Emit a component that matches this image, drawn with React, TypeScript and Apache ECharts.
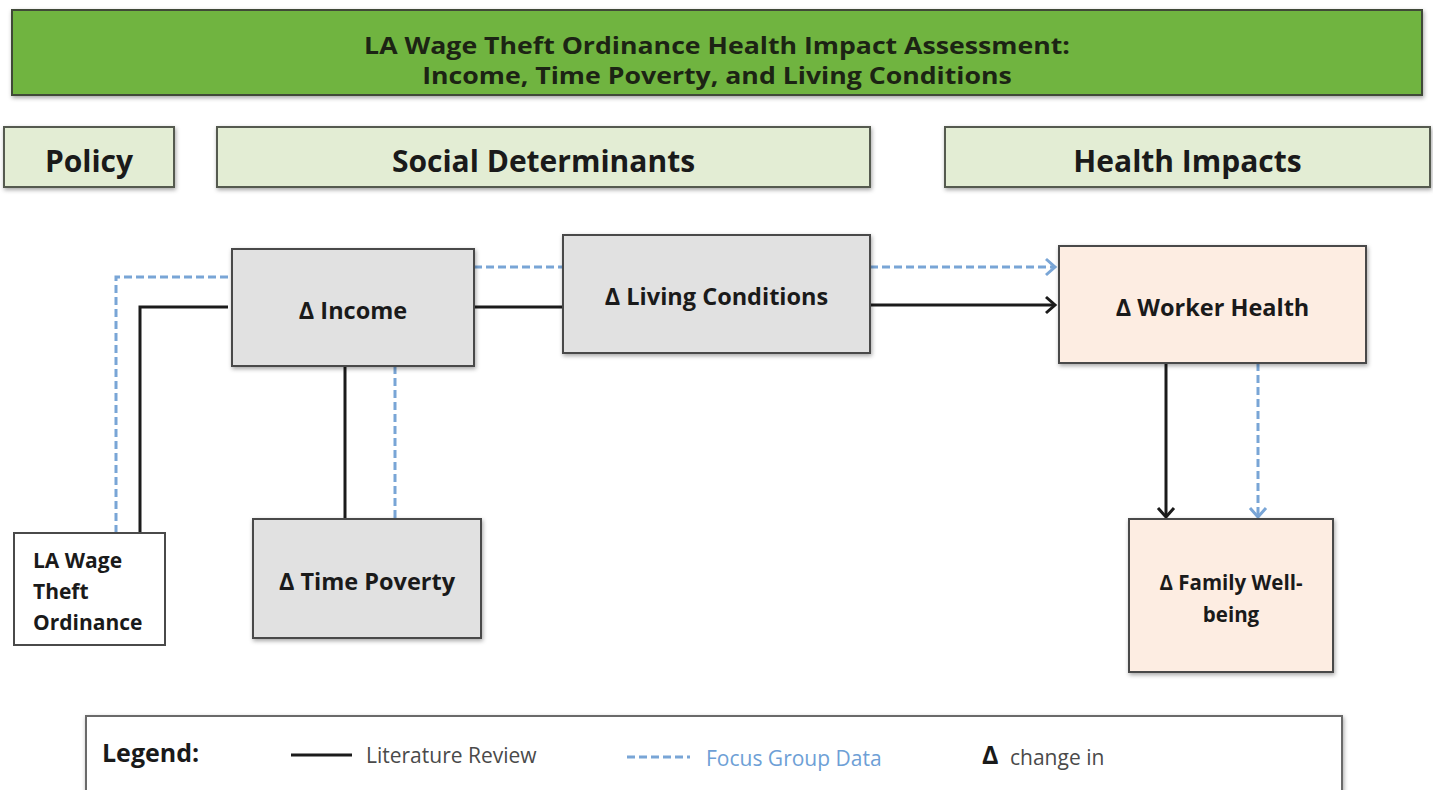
import React, { useEffect, useRef } from "react";
import * as echarts from "echarts";

// ---- content ----
const titleLines = [
  "LA Wage Theft Ordinance Health Impact Assessment:",
  "Income, Time Poverty, and Living Conditions",
];
const headerLabels = ["Policy", "Social Determinants", "Health Impacts"];
const nodeLabels = [
  "Δ Income",
  "Δ Living Conditions",
  "Δ Worker Health",
  "Δ Family Well-\nbeing",
  "LA Wage\nTheft\nOrdinance",
  "Δ Time Poverty",
];
const nodeKinds = ["social", "social", "health", "health", "policy", "social"];
// links: [fromNode, toNode, evidence]
const linkPairs: [number, number, string][] = [
  [4, 0, "literature"],
  [4, 0, "focus"],
  [0, 5, "literature"],
  [0, 5, "focus"],
  [0, 1, "literature"],
  [0, 1, "focus"],
  [1, 2, "literature"],
  [1, 2, "focus"],
  [2, 3, "literature"],
  [2, 3, "focus"],
];
const linkArrow = [false, false, false, false, false, false, true, true, true, true];
const legendLabels = ["Legend:", "Literature Review", "Focus Group Data", "change in"];

// ---- layout (pixels in a 1433 x 790 frame) ----
const titleBox = { x: 12, y: 10, w: 1410, h: 85 };
const headerBoxes = [
  { x: 4, y: 127, w: 170, h: 60 },
  { x: 217, y: 127, w: 653, h: 60 },
  { x: 945, y: 127, w: 485, h: 60 },
];
const nodeBoxes = [
  { x: 232, y: 249, w: 242, h: 117 },
  { x: 563, y: 235, w: 307, h: 118 },
  { x: 1059, y: 246, w: 307, h: 117 },
  { x: 1129, y: 519, w: 204, h: 153 },
  { x: 14, y: 533, w: 151, h: 112 },
  { x: 253, y: 519, w: 228, h: 119 },
];
const nodeFontSizes = [23.5, 23.5, 23.5, 20.5, 21, 23.5];
const linkPaths: number[][][] = [
  [[140, 533], [140, 307], [228, 307]],
  [[116, 533], [116, 277], [232, 277]],
  [[345, 366], [345, 519]],
  [[395, 366], [395, 519]],
  [[474, 307], [563, 307]],
  [[474, 267], [563, 267]],
  [[870, 305], [1055, 305]],
  [[870, 267], [1055, 267]],
  [[1166, 363], [1166, 517]],
  [[1258, 363], [1258, 517]],
];
const legendBox = { x: 86, y: 716, w: 1256, h: 100 };

const FONT = "'Open Sans', 'Noto Sans', sans-serif";
const BLUE = "#79a5d6";
const BLACK = "#1b1b1b";
const fills: Record<string, string> = {
  social: "#e1e1e1",
  health: "#fdede2",
  policy: "#ffffff",
};

export default function App() {
  const ref = useRef<HTMLDivElement>(null);
  useEffect(() => {
    document.body.style.margin = "0";
    if (!ref.current) return;
    const chart = echarts.init(ref.current, undefined, { renderer: "svg" });

    const rectAt = (api: any, b: any) => {
      const p1 = api.coord([b.x, b.y]);
      const p2 = api.coord([b.x + b.w, b.y + b.h]);
      return { x: p1[0], y: p1[1], width: p2[0] - p1[0], height: p2[1] - p1[1] };
    };
    const shadow = {
      shadowBlur: 4,
      shadowOffsetX: 1,
      shadowOffsetY: 2,
      shadowColor: "rgba(0,0,0,0.35)",
    };

    const chevron = (tip: number[], dir: string) => {
      const d = 9;
      const s = 8;
      if (dir === "right")
        return [[tip[0] - d, tip[1] - s], tip, [tip[0] - d, tip[1] + s]];
      return [[tip[0] - s, tip[1] - d], tip, [tip[0] + s, tip[1] - d]];
    };

    const option: any = {
      animation: false,
      backgroundColor: "#ffffff",
      grid: { left: 0, right: 0, top: 0, bottom: 0 },
      xAxis: { type: "value", min: 0, max: 1433, show: false },
      yAxis: { type: "value", min: 0, max: 790, inverse: true, show: false },
      series: [
        // title + header bands
        {
          type: "custom",
          clip: false,
          data: [0, 1, 2, 3].map((i) => [i, i]),
          renderItem: (params: any, api: any) => {
            const i = params.dataIndex;
            if (i === 0) {
              const r = rectAt(api, titleBox);
              return {
                type: "group",
                children: [
                  {
                    type: "rect",
                    shape: r,
                    style: { fill: "#6fb441", stroke: "#3f4a37", lineWidth: 2, ...shadow },
                  },
                  {
                    type: "text",
                    x: r.x + r.width / 2,
                    y: r.y + 50,
                    scaleX: 1.16,
                    style: {
                      text: titleLines.join("\n"),
                      x: 0,
                      y: 0,
                      align: "center",
                      verticalAlign: "middle",
                      fill: "#1c2414",
                      fontFamily: FONT,
                      fontWeight: "bold",
                      fontSize: 23,
                      lineHeight: 30,
                    },
                  },
                ],
              };
            }
            const b = headerBoxes[i - 1];
            const r = rectAt(api, b);
            return {
              type: "group",
              children: [
                {
                  type: "rect",
                  shape: r,
                  style: { fill: "#e3edd4", stroke: "#555a50", lineWidth: 2, ...shadow },
                },
                {
                  type: "text",
                  style: {
                    text: headerLabels[i - 1],
                    x: r.x + r.width / 2,
                    y: r.y + r.height / 2 + 3,
                    align: "center",
                    verticalAlign: "middle",
                    fill: "#1a1a1a",
                    fontFamily: FONT,
                    fontWeight: "bold",
                    fontSize: 30,
                  },
                },
              ],
            };
          },
        },
        // connectors
        {
          type: "custom",
          clip: false,
          z: 1,
          data: linkPairs.map((l, i) => [i, l[0]]),
          renderItem: (params: any, api: any) => {
            const i = params.dataIndex;
            const kind = linkPairs[i][2];
            const pts = linkPaths[i].map((p) => api.coord(p));
            const color = kind === "focus" ? BLUE : BLACK;
            const lineStyle: any = {
              stroke: color,
              lineWidth: 3,
              fill: null,
              lineDash: kind === "focus" ? [8, 4] : null,
            };
            const children: any[] = [
              { type: "polyline", shape: { points: pts }, style: lineStyle },
            ];
            if (linkArrow[i]) {
              const a = pts[pts.length - 2];
              const b = pts[pts.length - 1];
              const dir = a[1] === b[1] ? "right" : "down";
              children.push({
                type: "polyline",
                shape: { points: chevron(b, dir) },
                style: { stroke: color, lineWidth: 3, fill: null },
              });
            }
            return { type: "group", children };
          },
        },
        // nodes
        {
          type: "custom",
          clip: false,
          z: 2,
          data: nodeLabels.map((_, i) => [i, i]),
          renderItem: (params: any, api: any) => {
            const i = params.dataIndex;
            const r = rectAt(api, nodeBoxes[i]);
            const kind = nodeKinds[i];
            const isPolicy = kind === "policy";
            return {
              type: "group",
              children: [
                {
                  type: "rect",
                  shape: r,
                  style: {
                    fill: fills[kind],
                    stroke: "#4a4a4a",
                    lineWidth: 2,
                    ...(isPolicy ? {} : shadow),
                  },
                },
                {
                  type: "text",
                  style: {
                    text: nodeLabels[i],
                    x: isPolicy ? r.x + 19 : r.x + r.width / 2,
                    y: r.y + r.height / 2 + (isPolicy ? 2 : 2),
                    align: isPolicy ? "left" : "center",
                    verticalAlign: "middle",
                    fill: "#1a1a1a",
                    fontFamily: FONT,
                    fontWeight: "bold",
                    fontSize: nodeFontSizes[i],
                    lineHeight: isPolicy ? 31 : 32,
                  },
                },
              ],
            };
          },
        },
        // legend
        {
          type: "custom",
          clip: false,
          z: 3,
          data: [[0, 0]],
          renderItem: (params: any, api: any) => {
            const r = rectAt(api, legendBox);
            const p = (x: number, y: number) => api.coord([x, y]);
            return {
              type: "group",
              children: [
                {
                  type: "rect",
                  shape: r,
                  style: { fill: "#ffffff", stroke: "#6a6a6a", lineWidth: 2, ...shadow },
                },
                {
                  type: "text",
                  style: {
                    text: legendLabels[0],
                    x: p(102, 752)[0],
                    y: p(102, 752)[1],
                    align: "left",
                    verticalAlign: "middle",
                    fill: "#1a1a1a",
                    fontFamily: FONT,
                    fontWeight: "bold",
                    fontSize: 25,
                  },
                },
                {
                  type: "line",
                  shape: { x1: p(291, 755)[0], y1: p(291, 755)[1], x2: p(352, 755)[0], y2: p(352, 755)[1] },
                  style: { stroke: BLACK, lineWidth: 3 },
                },
                {
                  type: "text",
                  style: {
                    text: legendLabels[1],
                    x: p(366, 755)[0],
                    y: p(366, 755)[1],
                    align: "left",
                    verticalAlign: "middle",
                    fill: "#4a4a4a",
                    fontFamily: FONT,
                    fontSize: 21,
                  },
                },
                {
                  type: "line",
                  shape: { x1: p(627, 757)[0], y1: p(627, 757)[1], x2: p(690, 757)[0], y2: p(690, 757)[1] },
                  style: { stroke: BLUE, lineWidth: 3, lineDash: [8, 4] },
                },
                {
                  type: "text",
                  style: {
                    text: legendLabels[2],
                    x: p(706, 758)[0],
                    y: p(706, 758)[1],
                    align: "left",
                    verticalAlign: "middle",
                    fill: "#6e9fd6",
                    fontFamily: FONT,
                    fontSize: 21,
                  },
                },
                {
                  type: "text",
                  style: {
                    text: "Δ",
                    x: p(982, 754)[0],
                    y: p(982, 754)[1],
                    align: "left",
                    verticalAlign: "middle",
                    fill: "#1a1a1a",
                    fontFamily: FONT,
                    fontWeight: "bold",
                    fontSize: 25,
                  },
                },
                {
                  type: "text",
                  style: {
                    text: legendLabels[3],
                    x: p(1010, 757)[0],
                    y: p(1010, 757)[1],
                    align: "left",
                    verticalAlign: "middle",
                    fill: "#4a4a4a",
                    fontFamily: FONT,
                    fontSize: 21,
                  },
                },
              ],
            };
          },
        },
      ],
    };
    chart.setOption(option);
    return () => chart.dispose();
  }, []);
  return <div ref={ref} style={{ width: 1433, height: 790 }} />;
}
